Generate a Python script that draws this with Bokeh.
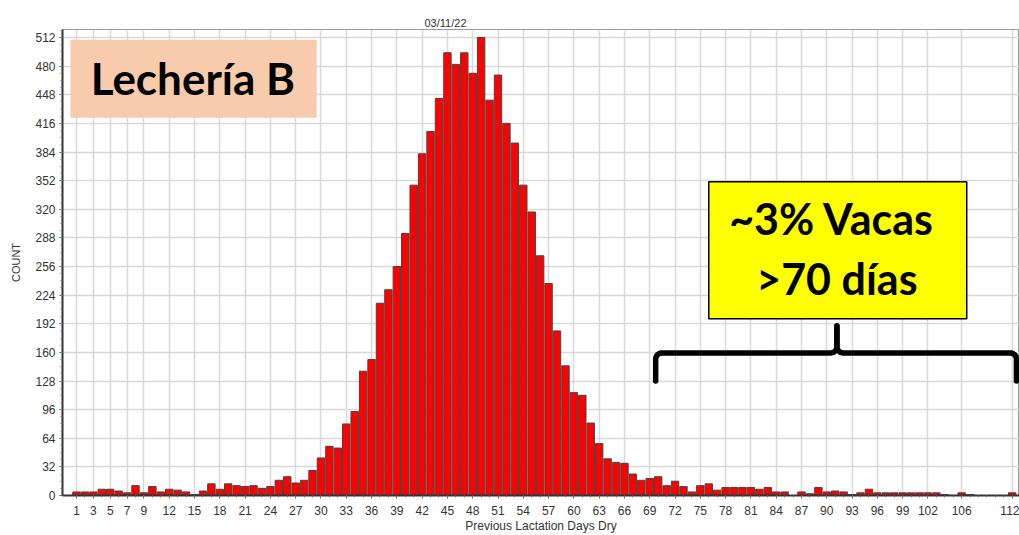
import numpy as np
from bokeh.plotting import figure
from bokeh.models import Range1d, FixedTicker, Title
from bokeh.core.properties import value
from bokeh.embed import file_html
from bokeh.resources import INLINE

# ---------------- data ----------------
days = list(range(1, 113))
counts = [
    4, 4, 4, 7, 7, 5, 3, 11, 3, 10,          # 1-10
    4, 7, 6, 4, 1, 5, 13, 7, 13, 11,         # 11-20
    10, 11, 8, 10, 17, 21, 14, 17, 28, 42,   # 21-30
    55, 53, 80, 94, 139, 152, 215, 230, 256, 293,   # 31-40
    347, 382, 407, 444, 495, 482, 495, 472, 512, 442,  # 41-50
    470, 416, 394, 347, 317, 268, 237, 184, 145, 115,  # 51-60
    112, 81, 58, 41, 37, 36, 24, 17, 19, 21,  # 61-70
    11, 16, 10, 4, 11, 13, 6, 9, 9, 9,        # 71-80
    9, 7, 9, 4, 4, 0, 4, 2, 9, 4,             # 81-90
    5, 4, 1, 3, 7, 3, 3, 3, 3, 3,             # 91-100
    3, 3, 3, 1, 0, 3, 1, 0, 0, 0,             # 101-110
    0, 3,                                     # 111-112
]
x_ticks = [1, 3, 5, 7, 9, 12, 15, 18, 21, 24, 27, 30, 33, 36, 39, 42, 45, 48,
           51, 54, 57, 60, 63, 66, 69, 72, 75, 78, 81, 84, 87, 90, 93, 96, 99,
           102, 106, 112]
y_ticks = list(range(0, 513, 32))
chart_date = "03/11/22"
x_label = "Previous Lactation Days Dry"
y_label = "COUNT"
box_title = "Lechería B"
note_lines = ["~3% Vacas", ">70 días"]

# ---------------- figure ----------------
p = figure(width=1019, height=535,
           x_range=Range1d(-0.66, 112.86), y_range=Range1d(0, 521),
           output_backend="svg", toolbar_location=None,
           min_border_left=62, min_border_right=0,
           min_border_top=29, min_border_bottom=40)
p.background_fill_color = "white"
p.border_fill_color = "white"
p.outline_line_color = "#9a9a9a"
p.outline_line_width = 1

t = Title(text=chart_date, align="left", offset=362,
          text_font="Liberation Sans", text_font_size="11px",
          text_font_style="normal", text_color="#333333", standoff=2)
p.add_layout(t, "above")

# grid
p.grid.grid_line_color = "#d9d9d9"
p.grid.grid_line_width = 1.5

# axes
p.xaxis.ticker = FixedTicker(ticks=x_ticks, minor_ticks=days)
p.yaxis.ticker = FixedTicker(ticks=y_ticks, minor_ticks=list(range(0, 521, 8)))
for ax in (p.xaxis[0], p.yaxis[0]):
    ax.axis_line_color = "#333333"
    ax.axis_line_width = 2
    ax.major_tick_line_color = "#555555"
    ax.minor_tick_line_color = "#777777"
    ax.major_tick_in = 0
    ax.minor_tick_in = 0
    ax.major_tick_out = 3
    ax.minor_tick_out = 2
    ax.major_label_text_font = "Liberation Sans"
    ax.major_label_text_font_size = "12px"
    ax.major_label_text_color = "#333333"
    ax.axis_label_text_font = "Liberation Sans"
    ax.axis_label_text_font_style = "normal"
    ax.axis_label_text_color = "#333333"

p.xaxis.axis_label = x_label
p.xaxis.axis_label_text_font_size = "12px"
p.xaxis.major_label_standoff = 7
p.xaxis.axis_label_standoff = 1
p.yaxis.axis_label = y_label
p.yaxis.axis_label_text_font_size = "11px"
p.yaxis.major_label_standoff = 4
p.yaxis.axis_label_standoff = 10

# bars
p.vbar(x=days, top=counts, width=0.88, bottom=0,
       fill_color="#ff0000", line_color="#444444", line_width=1)

# ---------------- annotations ----------------
# "Lechería B" box
p.quad(left=[0.28], right=[29.5], bottom=[422.4], top=[509.6],
       fill_color="#f8cbad", line_color=None)
p.text(x=[14.8], y=[466.5], text=[box_title], text_font=value("Lato"),
       text_font_style="bold", text_font_size="44px", text_align="center",
       text_baseline="alphabetic", text_color="black")

# yellow note
p.quad(left=[76.0], right=[106.6], bottom=[197.5], top=[350.8],
       fill_color="#ffff00", line_color="black", line_width=1.5)
p.text(x=[90.6, 91.2], y=[309.5, 243.0], text=note_lines, text_font=value("Lato"),
       text_font_style="bold", text_font_size="43px", text_align="center",
       text_baseline="alphabetic", text_color="black")

# curly brace
def arc(cx, cy, rx, ry, a0, a1, n=8):
    a = np.linspace(np.radians(a0), np.radians(a1), n)
    return list(cx + rx * np.cos(a)), list(cy + ry * np.sin(a))

def brace_half(x_end, x_mid, y_line, y_bottom, y_top, sgn):
    rx, ry = 0.75, 7.0
    xs, ys = [x_end], [y_bottom]
    ax, ay = arc(x_end + sgn * rx, y_line - ry, rx, ry,
                 180 if sgn > 0 else 0, 90)
    xs += ax; ys += ay
    bx, by = arc(x_mid - sgn * rx, y_line + ry, rx, ry,
                 270, 360 if sgn > 0 else 180)
    xs += bx; ys += by
    xs.append(x_mid); ys.append(y_top)
    return xs, ys

lx, ly = brace_half(69.7, 91.2, 159.4, 128.0, 189.6, 1)
rx_, ry_ = brace_half(112.5, 91.2, 159.4, 128.0, 189.6, -1)
for xs, ys in ((lx, ly), (rx_, ry_)):
    p.line(xs, ys, line_color="black", line_width=5.5,
           line_join="round", line_cap="round")

open("out.html", "w").write(file_html(p, INLINE))
